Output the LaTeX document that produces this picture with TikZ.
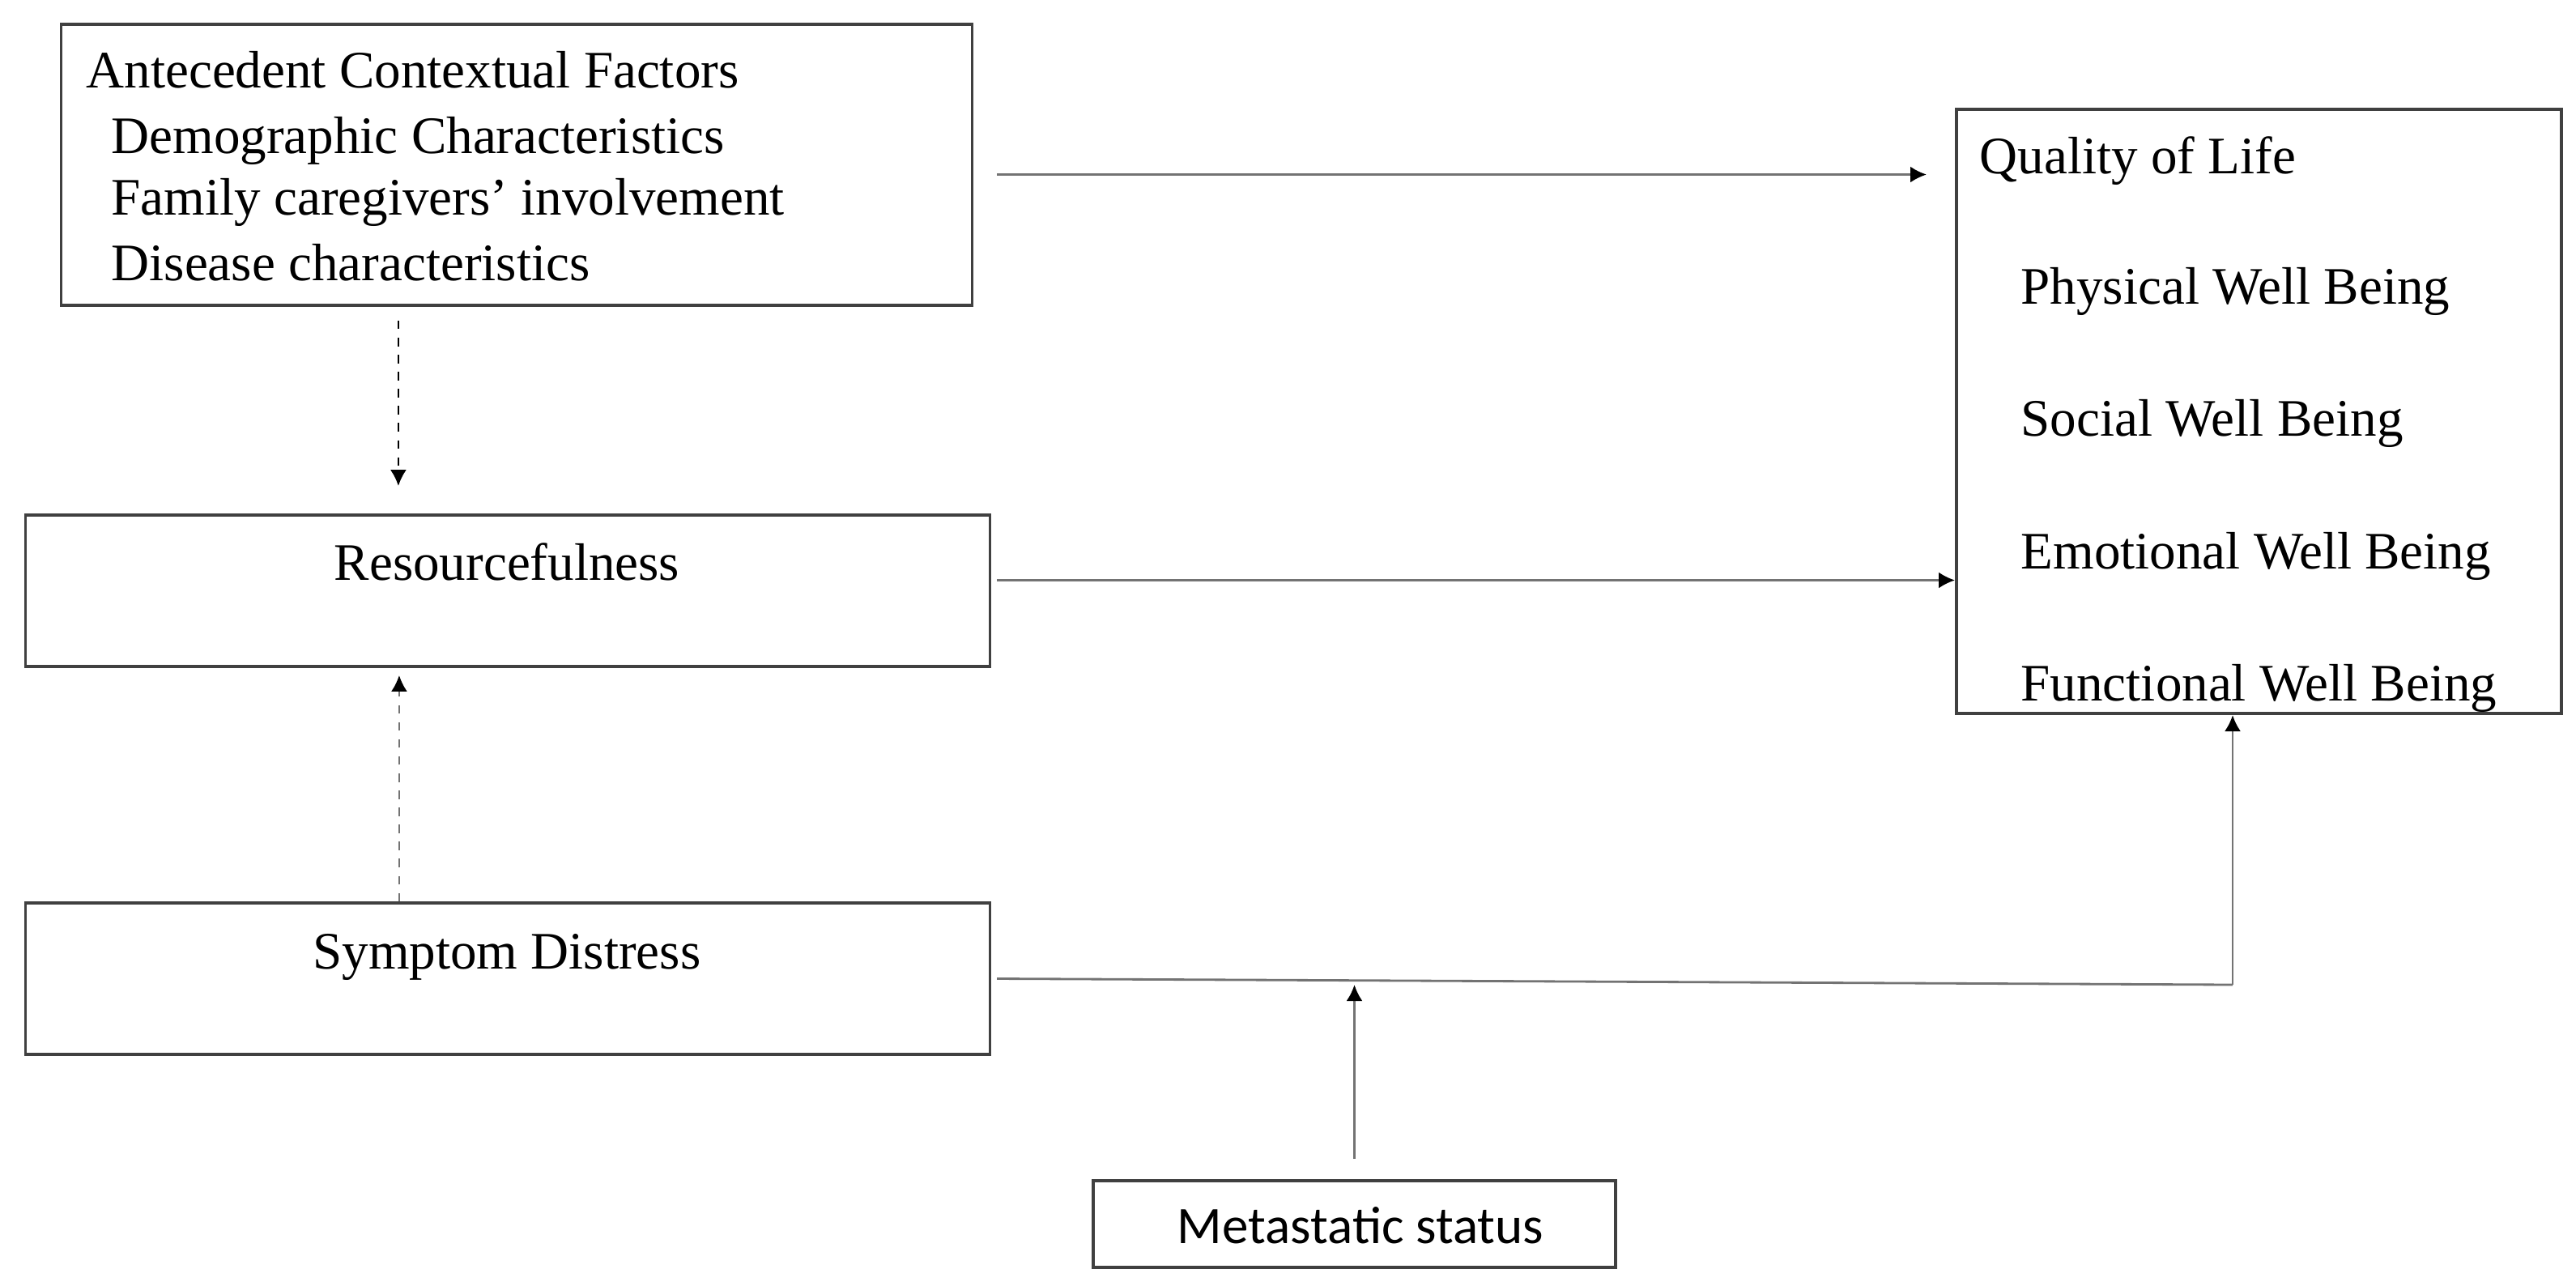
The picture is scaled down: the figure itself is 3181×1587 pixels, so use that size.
\documentclass[tikz,border=0pt]{standalone}
\usepackage{fontspec}
\setmainfont{Liberation Serif}
\newfontfamily\calibrifont{Carlito}
\usetikzlibrary{arrows.meta}

\begin{document}
\begin{tikzpicture}[x=0.01cm, y=-0.01cm,
  >={Latex[length=0.2cm,width=0.2cm,color=black]},
  box/.style={draw=black!75, line width=1pt, inner sep=0pt},
  conn/.style={draw=black!55, line width=0.8pt, ->},
  lbl/.style={inner sep=0pt, anchor=base west, font=\fontsize{18.5}{22}\selectfont}]

\useasboundingbox (0,0) rectangle (3181,1587);

% boxes
\node[box, minimum width=11.24cm, minimum height=3.47cm] (ante) at (638,203.5) {};
\node[box, minimum width=11.90cm, minimum height=1.87cm] (res) at (627,729.5) {};
\node[box, minimum width=11.90cm, minimum height=1.87cm] (sym) at (627,1208.5) {};
\node[box, minimum width=6.45cm, minimum height=1.07cm] (meta) at (1672.5,1511.5) {};
\node[box, minimum width=7.47cm, minimum height=7.46cm] (qol) at (2789.5,508) {};

% antecedent factors
\node[lbl] (acf) at (106,108) {Antecedent Contextual Factors};
\node[lbl] (demo) at (137,189) {Demographic Characteristics};
\node[lbl] (fam) at (137,265) {Family caregivers’ involvement};
\node[lbl] (dis) at (137,346) {Disease characteristics};

% middle boxes
\node[lbl, anchor=base] (resl) at (626,716) {Resourcefulness};
\node[lbl, anchor=base] (syml) at (626,1196) {Symptom Distress};
\node[lbl, anchor=base, font=\calibrifont\fontsize{18.5}{22}\selectfont] (metal) at (1680,1535) {Metastatic status};

% quality of life
\node[lbl] (qoll) at (2444,214) {Quality of Life};
\node[lbl] (phys) at (2495,375) {Physical Well Being};
\node[lbl] (soc) at (2495,538) {Social Well Being};
\node[lbl] (emo) at (2495,702) {Emotional Well Being};
\node[lbl] (func) at (2495,865) {Functional Well Being};

% arrows
\draw[conn, shorten <=0.29cm, shorten >=0.35cm] ([yshift=-0.12cm]ante.east) -- ([yshift=-0.12cm]ante.east -| qol.west);
\draw[conn, shorten <=0.07cm] ([yshift=0.13cm]res.east) -- ([yshift=0.13cm]res.east -| qol.west);

\draw[conn, draw=black, dashed, shorten <=0.17cm, shorten >=0.34cm] ([xshift=-1.46cm]ante.south) -- ([xshift=-1.46cm]ante.south |- res.north);
\draw[conn, dashed, shorten >=0.09cm] ([xshift=-1.34cm]sym.north) -- ([xshift=-1.34cm]sym.north |- res.south);

\coordinate (bend) at (2757,1216);
\draw[conn, -] ([xshift=0.07cm]sym.east) -- (bend);
\draw[conn] (bend) -- (bend |- qol.south);
\draw[conn, shorten <=0.25cm] (meta.north) -- (meta.north |- bend);

\end{tikzpicture}
\end{document}
